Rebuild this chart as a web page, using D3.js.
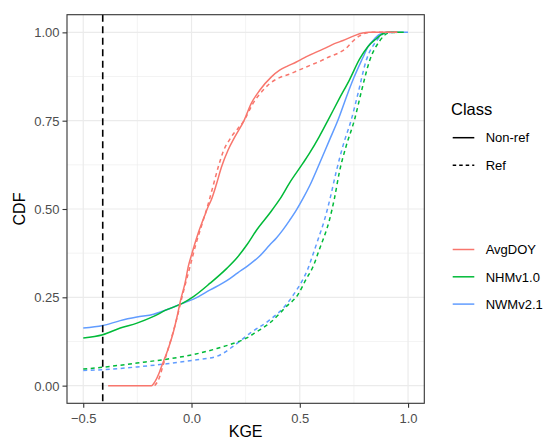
<!DOCTYPE html>
<html><head><meta charset="utf-8">
<script src="https://cdn.jsdelivr.net/npm/d3@7"></script>
<style>body{margin:0;background:#fff}svg{display:block;font-family:"Liberation Sans",Arial,sans-serif}</style>
</head><body><svg id="c" width="545" height="441"></svg>
<script>
const models = ["AvgDOY","NHMv1.0","NWMv2.1"];
const classes = ["Non-ref","Ref"];
const colors = ["#F8766D","#00BA38","#619CFF"];
const xTicks = [-0.5,0.0,0.5,1.0];
const yTicks = [0,0.25,0.5,0.75,1.0];
const benchmarkKGE = -0.41;

// [KGE, CDF] pairs
const avgNonRef = [[-0.385,0],[-0.185,0],[-0.17,0.01],[-0.15,0.035],[-0.138,0.055],[-0.11,0.1],[-0.085,0.149],[-0.065,0.2],[-0.05,0.243],[-0.03,0.29],[-0.015,0.337],[0,0.37],[0.03,0.43],[0.06,0.48],[0.077,0.507],[0.092,0.527],[0.115,0.57],[0.138,0.618],[0.169,0.667],[0.2,0.704],[0.243,0.751],[0.276,0.799],[0.315,0.836],[0.369,0.874],[0.407,0.893],[0.445,0.905],[0.484,0.916],[0.52,0.928],[0.576,0.944],[0.62,0.956],[0.66,0.968],[0.7,0.977],[0.75,0.99],[0.79,0.998],[0.82,1],[0.95,1]];
const avgRef = [[-0.17,0],[-0.15,0.02],[-0.13,0.06],[-0.1,0.12],[-0.07,0.185],[-0.04,0.26],[-0.01,0.33],[0.02,0.4],[0.05,0.46],[0.075,0.51],[0.103,0.573],[0.123,0.618],[0.146,0.662],[0.184,0.704],[0.243,0.751],[0.284,0.799],[0.33,0.836],[0.361,0.855],[0.407,0.872],[0.453,0.882],[0.484,0.89],[0.545,0.906],[0.6,0.92],[0.637,0.931],[0.68,0.942],[0.714,0.955],[0.745,0.975],[0.776,0.99],[0.806,0.998],[0.83,1],[0.95,1]];
const nhmNonRef = [[-0.5,0.135],[-0.41,0.144],[-0.329,0.163],[-0.252,0.177],[-0.175,0.196],[-0.114,0.215],[-0.045,0.232],[0.009,0.252],[0.086,0.29],[0.163,0.332],[0.21,0.362],[0.255,0.398],[0.3,0.44],[0.361,0.488],[0.407,0.527],[0.453,0.574],[0.514,0.629],[0.545,0.658],[0.59,0.705],[0.63,0.751],[0.683,0.813],[0.729,0.865],[0.776,0.924],[0.815,0.96],[0.853,0.982],[0.883,0.996],[0.91,1],[0.98,1]];
const nwmNonRef = [[-0.5,0.163],[-0.41,0.17],[-0.329,0.184],[-0.252,0.194],[-0.175,0.202],[-0.114,0.215],[-0.045,0.232],[0.009,0.245],[0.086,0.271],[0.163,0.297],[0.215,0.32],[0.255,0.337],[0.315,0.367],[0.361,0.398],[0.392,0.418],[0.422,0.441],[0.453,0.468],[0.484,0.497],[0.515,0.53],[0.545,0.565],[0.591,0.629],[0.637,0.695],[0.676,0.751],[0.72,0.825],[0.75,0.872],[0.791,0.928],[0.814,0.958],[0.837,0.976],[0.868,0.994],[0.91,1],[1.0,1]];
const nhmRef = [[-0.5,0.047],[-0.41,0.052],[-0.252,0.064],[-0.114,0.075],[0.009,0.088],[0.117,0.105],[0.176,0.116],[0.255,0.135],[0.3,0.152],[0.361,0.177],[0.438,0.224],[0.491,0.257],[0.53,0.302],[0.56,0.335],[0.59,0.385],[0.637,0.469],[0.66,0.53],[0.683,0.605],[0.715,0.68],[0.752,0.751],[0.785,0.834],[0.822,0.919],[0.868,0.975],[0.914,0.999],[0.95,1]];
const nwmRef = [[-0.5,0.043],[-0.41,0.045],[-0.252,0.053],[-0.114,0.062],[0.009,0.072],[0.117,0.083],[0.192,0.111],[0.269,0.148],[0.361,0.186],[0.43,0.224],[0.476,0.262],[0.514,0.3],[0.537,0.33],[0.56,0.37],[0.585,0.415],[0.614,0.469],[0.64,0.53],[0.668,0.605],[0.7,0.68],[0.737,0.751],[0.77,0.83],[0.806,0.919],[0.853,0.975],[0.899,0.999],[0.95,1]];

const series = [
  {m:2,c:1,d:nwmRef},{m:1,c:1,d:nhmRef},
  {m:2,c:0,d:nwmNonRef},{m:1,c:0,d:nhmNonRef},
  {m:0,c:1,d:avgRef},{m:0,c:0,d:avgNonRef}
];

const svg = d3.select("#c");
const L=67,R=424.3,T=14.7,B=403.3;
const x = d3.scaleLinear().domain([-0.575,1.075]).range([L,R]);
const y = d3.scaleLinear().domain([-0.05,1.05]).range([B,T]);

// grid
const g = svg.append("g");
const minorX = [-0.25,0.25,0.75], minorY=[0.125,0.375,0.625,0.875];
minorX.forEach(v=>g.append("line").attr("x1",x(v)).attr("x2",x(v)).attr("y1",T).attr("y2",B).attr("stroke","#EBEBEB").attr("stroke-width",0.6));
minorY.forEach(v=>g.append("line").attr("y1",y(v)).attr("y2",y(v)).attr("x1",L).attr("x2",R).attr("stroke","#EBEBEB").attr("stroke-width",0.6));
xTicks.forEach(v=>g.append("line").attr("x1",x(v)).attr("x2",x(v)).attr("y1",T).attr("y2",B).attr("stroke","#EBEBEB").attr("stroke-width",1.2));
yTicks.forEach(v=>g.append("line").attr("y1",y(v)).attr("y2",y(v)).attr("x1",L).attr("x2",R).attr("stroke","#EBEBEB").attr("stroke-width",1.2));

const line = d3.line().x(d=>x(d[0])).y(d=>y(d[1])).curve(d3.curveMonotoneX);
series.forEach(s=>{
  svg.append("path").attr("d",line(s.d)).attr("fill","none")
    .attr("stroke",colors[s.m]).attr("stroke-width",1.5)
    .attr("stroke-dasharray",s.c===1?"4,3.5":null);
});

svg.append("line").attr("x1",x(benchmarkKGE)).attr("x2",x(benchmarkKGE)).attr("y1",T).attr("y2",B)
  .attr("stroke","#000").attr("stroke-width",1.6).attr("stroke-dasharray","7,4.5");

svg.append("rect").attr("x",L).attr("y",T).attr("width",R-L).attr("height",B-T).attr("fill","none").attr("stroke","#333").attr("stroke-width",1.1);

// axes
const xa = svg.append("g").attr("transform",`translate(0,${B})`).call(d3.axisBottom(x).tickValues(xTicks).tickFormat(d3.format(".1f")).tickSize(4.5).tickPadding(3));
const ya = svg.append("g").attr("transform",`translate(${L},0)`).call(d3.axisLeft(y).tickValues(yTicks).tickFormat(d3.format(".2f")).tickSize(4.5).tickPadding(3));
[xa,ya].forEach(a=>{a.select(".domain").remove();a.selectAll(".tick line").attr("stroke","#333").attr("stroke-width",1.1);
  a.selectAll(".tick text").attr("fill","#4D4D4D").attr("font-size",13).attr("font-family","Liberation Sans, Arial, sans-serif");});
xa.selectAll(".tick text").attr("dy","0.95em");
ya.selectAll(".tick text").attr("dy","0.35em");

svg.append("text").attr("x",x(0.25)).attr("y",437).attr("text-anchor","middle").attr("font-size",16).text("KGE");
svg.append("text").attr("transform",`translate(25,${y(0.5)}) rotate(-90)`).attr("text-anchor","middle").attr("font-size",16).text("CDF");

// legends
svg.append("text").attr("x",451).attr("y",115).attr("font-size",16.5).text("Class");
classes.forEach((c,i)=>{
  const yy = 137.7+i*27.5;
  svg.append("line").attr("x1",452.7).attr("x2",474.3).attr("y1",yy).attr("y2",yy).attr("stroke","#000").attr("stroke-width",1.5).attr("stroke-dasharray",i===1?"3.5,3":null);
  svg.append("text").attr("x",485.7).attr("y",yy+4.7).attr("font-size",13).text(c);
});
models.forEach((m,i)=>{
  const yy = 249.5+i*27.3;
  svg.append("line").attr("x1",452.7).attr("x2",474.3).attr("y1",yy).attr("y2",yy).attr("stroke",colors[i]).attr("stroke-width",1.5);
  svg.append("text").attr("x",485.7).attr("y",yy+4.7).attr("font-size",13).text(m);
});
</script></body></html>
